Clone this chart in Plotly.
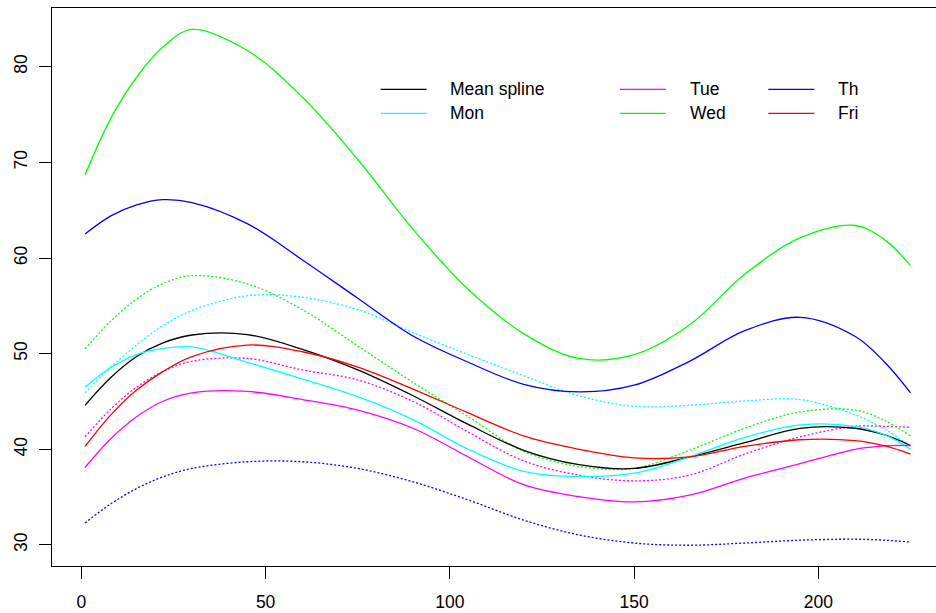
import plotly.graph_objects as go

# Sample positions along the x axis (1..225)
x_pos = [1, 8, 15, 22, 30, 45, 60, 75, 90, 105, 120, 135, 150, 165, 180, 195, 210, 218, 225]

# Fitted spline values, solid curves
mean_spline = [44.6, 47.5, 49.7, 51.1, 51.95, 52.0, 50.45, 48.3, 45.6, 42.6, 39.9, 38.4, 38.0, 39.2, 40.7, 42.2, 42.2, 41.5, 40.4]
mon = [46.5, 48.55, 49.9, 50.55, 50.7, 49.1, 47.35, 45.5, 43.1, 40.0, 37.7, 37.15, 37.5, 39.2, 41.25, 42.55, 42.4, 41.5, 40.0]
tue = [38.1, 41.1, 43.4, 45.0, 45.9, 46.05, 45.2, 44.1, 42.2, 39.2, 36.3, 35.05, 34.5, 35.2, 37.0, 38.5, 40.0, 40.35, 40.4]
wed = [68.7, 74.6, 78.9, 82.0, 83.9, 81.7, 76.8, 70.3, 63.0, 56.7, 52.1, 49.5, 49.9, 53.0, 58.3, 62.1, 63.4, 61.9, 59.2]
th = [62.5, 64.4, 65.55, 66.1, 65.8, 63.6, 59.8, 55.8, 51.85, 49.1, 46.8, 46.0, 46.7, 49.2, 52.4, 53.8, 51.8, 49.1, 45.9]
fri = [40.3, 43.6, 46.2, 48.1, 49.7, 50.9, 50.2, 48.6, 46.3, 43.8, 41.4, 40.0, 39.1, 39.2, 40.3, 41.0, 40.9, 40.35, 39.5]

# Companion curves, dotted
mon_dot = [45.9, 48.6, 50.9, 52.9, 54.5, 56.05, 55.9, 54.6, 52.2, 49.9, 47.7, 45.6, 44.5, 44.6, 45.05, 45.2, 43.6, 42.1, 40.3]
tue_dot = [41.3, 44.2, 46.5, 48.1, 49.2, 49.5, 48.3, 47.25, 45.0, 41.8, 38.8, 37.3, 36.7, 37.3, 39.5, 41.3, 42.4, 42.4, 42.3]
wed_dot = [50.5, 53.4, 55.7, 57.3, 58.15, 57.3, 54.6, 50.8, 47.0, 43.4, 39.8, 38.2, 38.0, 39.9, 42.2, 43.9, 44.1, 43.0, 41.4]
th_dot = [32.3, 34.3, 35.9, 37.1, 38.0, 38.7, 38.7, 38.0, 36.6, 34.7, 32.6, 31.05, 30.2, 29.97, 30.2, 30.5, 30.6, 30.5, 30.3]

series_names = ["Mean spline", "Mon", "Tue", "Wed", "Th", "Fri"]
series_values = [mean_spline, mon, tue, wed, th, fri]
series_colors = ["#000000", "#00FFFF", "#FF00FF", "#00FF00", "#0000FF", "#FF0000"]

dotted_values = [mon_dot, tue_dot, wed_dot, th_dot]
dotted_colors = ["#00FFFF", "#FF00FF", "#00FF00", "#0000FF"]

x_ticks = [0, 50, 100, 150, 200]
y_ticks = [30, 40, 50, 60, 70, 80]

FONT = "Liberation Sans, Arial, Helvetica, sans-serif"
FS = 17.5

fig = go.Figure()

for vals, col in zip(dotted_values, dotted_colors):
    fig.add_trace(go.Scatter(
        x=x_pos, y=vals, mode="lines", showlegend=False, hoverinfo="skip",
        line=dict(color=col, width=1.3, dash="2px,2px", shape="spline", smoothing=1.0),
    ))

for name, vals, col in zip(series_names, series_values, series_colors):
    fig.add_trace(go.Scatter(
        x=x_pos, y=vals, mode="lines", name=name, showlegend=False, hoverinfo="skip",
        line=dict(color=col, width=1.3, shape="spline", smoothing=1.0),
    ))

# Borderless key: three columns of two entries (paper coordinates)
key_line_x = [0.3718, 0.6425, 0.8103]
key_text_x = [0.4494, 0.7209, 0.8877]
key_row_y = [0.8543, 0.8113]
key_line_len = 0.052

for i, (name, col) in enumerate(zip(series_names, series_colors)):
    c, r = divmod(i, 2)
    fig.add_shape(
        type="line", xref="paper", yref="paper",
        x0=key_line_x[c], x1=key_line_x[c] + key_line_len,
        y0=key_row_y[r], y1=key_row_y[r],
        line=dict(color=col, width=1.3),
    )
    fig.add_annotation(
        xref="paper", yref="paper", x=key_text_x[c], y=key_row_y[r],
        text=name, showarrow=False, xanchor="left", yanchor="middle",
        borderpad=0, font=dict(family=FONT, size=FS, color="black"),
    )

fig.update_layout(
    width=936, height=613,
    margin=dict(l=52, r=0, t=8, b=47),
    paper_bgcolor="white", plot_bgcolor="white",
    font=dict(family=FONT, size=FS, color="black"),
    showlegend=False,
)

fig.update_xaxes(
    range=[-7.96, 231.9], tickvals=x_ticks, ticks="outside", ticklen=12,
    tickcolor="black", tickwidth=1, showgrid=False, zeroline=False,
    showline=True, linecolor="black", linewidth=1, mirror=True,
    ticklabelstandoff=8,
    tickfont=dict(family=FONT, size=FS, color="black"),
)
fig.update_yaxes(
    range=[27.80, 86.14], tickvals=y_ticks, ticks="outside", ticklen=12,
    tickcolor="black", tickwidth=1, showgrid=False, zeroline=False,
    showline=True, linecolor="black", linewidth=1, mirror=False,
    tickangle=-90, ticklabelstandoff=5,
    tickfont=dict(family=FONT, size=FS, color="black"),
)

fig.write_html("out.html")
